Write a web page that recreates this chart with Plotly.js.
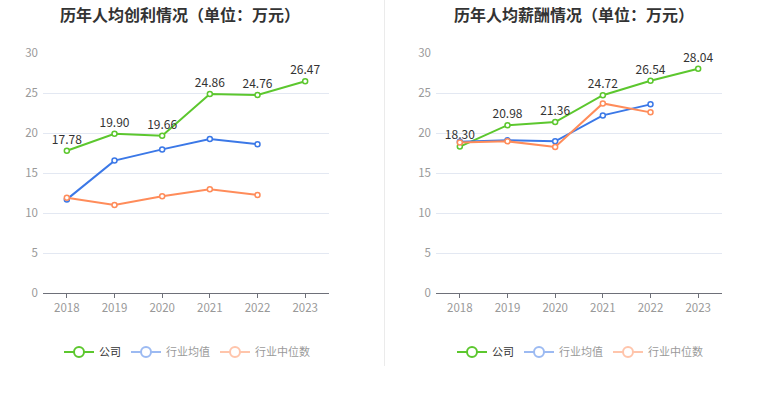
<!DOCTYPE html>
<html><head><meta charset="utf-8">
<script src="https://cdn.plot.ly/plotly-3.0.1.min.js"></script>
<style>html,body{margin:0;padding:0;background:#fff;}#c{width:765px;height:393px;}</style>
</head><body><div id="c"></div>
<script>
const years = ['2018','2019','2020','2021','2022','2023'];
const profitCompany = [17.78, 19.90, 19.66, 24.86, 24.76, 26.47];
const profitIndustryAvg = [11.7, 16.55, 17.95, 19.25, 18.6];
const profitIndustryMedian = [11.92, 11.0, 12.08, 12.96, 12.25];
const salaryCompany = [18.30, 20.98, 21.36, 24.72, 26.54, 28.04];
const salaryIndustryAvg = [18.9, 19.08, 18.96, 22.2, 23.58];
const salaryIndustryMedian = [18.8, 18.96, 18.25, 23.7, 22.58];
const seriesNames = ['公司', '行业均值', '行业中位数'];
const titles = ['历年人均创利情况（单位：万元）', '历年人均薪酬情况（单位：万元）'];

const colors = ['#5cc72e', '#3b78e7', '#ff8c5a'];
const font = 'Noto Sans CJK SC, Noto Sans, sans-serif';

function line(x, y, i, xa, ya, labels) {
  const t = {
    x: x, y: y, type: 'scatter', mode: labels ? 'lines+markers+text' : 'lines+markers',
    xaxis: xa, yaxis: ya, showlegend: false, hoverinfo: 'x+y',
    line: {color: colors[i], width: 2},
    marker: {symbol: 'circle', size: 5, color: '#fff', line: {color: colors[i], width: 1.5}},
    cliponaxis: false
  };
  if (labels) {
    t.text = y.map(v => v.toFixed(2));
    t.textposition = 'top center';
    t.textfont = {size: 12, color: '#333', family: font};
  }
  return t;
}
function legendItem(i, xa, ya, leg, vis) {
  return {
    x: [null], y: [null], type: 'scatter', mode: 'lines+markers', name: seriesNames[i],
    xaxis: xa, yaxis: ya, legend: leg, showlegend: true, visible: vis,
    line: {color: colors[i], width: 2},
    marker: {symbol: 'circle', size: 10, color: '#fff', line: {color: colors[i], width: 2}}
  };
}

const data = [
  line(years.slice(0, 6), profitCompany, 0, 'x', 'y', true),
  line(years.slice(0, 5), profitIndustryAvg, 1, 'x', 'y', false),
  line(years.slice(0, 5), profitIndustryMedian, 2, 'x', 'y', false),
  line(years.slice(0, 6), salaryCompany, 0, 'x2', 'y2', true),
  line(years.slice(0, 5), salaryIndustryAvg, 1, 'x2', 'y2', false),
  line(years.slice(0, 5), salaryIndustryMedian, 2, 'x2', 'y2', false),
  legendItem(0, 'x', 'y', 'legend', true),
  legendItem(1, 'x', 'y', 'legend', 'legendonly'),
  legendItem(2, 'x', 'y', 'legend', 'legendonly'),
  legendItem(0, 'x2', 'y2', 'legend2', true),
  legendItem(1, 'x2', 'y2', 'legend2', 'legendonly'),
  legendItem(2, 'x2', 'y2', 'legend2', 'legendonly')
];

const W = 765, H = 393;
function xax(d0, d1, anchor) {
  return {
    domain: [d0 / W, d1 / W], anchor: anchor, type: 'category', range: [-0.5, 5.5],
    showgrid: false, zeroline: false, showline: true, linecolor: '#6e7079', linewidth: 1,
    ticks: 'outside', ticklen: 4, tickcolor: '#6e7079',
    tickfont: {size: 11.5, color: '#999', family: font}, fixedrange: true
  };
}
function yax(anchor) {
  return {
    domain: [(H - 293) / H, (H - 53) / H], anchor: anchor, range: [0, 30], dtick: 5,
    showgrid: true, gridcolor: '#e3e8f2', gridwidth: 1, zeroline: false, showline: false,
    ticks: '', tickfont: {size: 11.5, color: '#999', family: font}, ticklabelstandoff: 4, fixedrange: true
  };
}
const legendBase = {
  orientation: 'h', xanchor: 'center', yanchor: 'middle', y: (H - 352) / H,
  font: {size: 11, color: '#333', family: font}, bgcolor: 'rgba(0,0,0,0)',
  itemwidth: 30, itemclick: false, itemdoubleclick: false
};
const layout = {
  width: W, height: H, margin: {l: 0, r: 0, t: 0, b: 0},
  paper_bgcolor: '#fff', plot_bgcolor: '#fff', showlegend: true,
  font: {family: font},
  xaxis: xax(43, 329, 'y'), yaxis: yax('x'),
  xaxis2: xax(436, 722, 'y2'), yaxis2: yax('x2'),
  legend: Object.assign({}, legendBase, {x: 187 / W}),
  legend2: Object.assign({}, legendBase, {x: 580 / W}),
  annotations: [
    {text: '<b>' + titles[0] + '</b>', xref: 'paper', yref: 'paper', x: 180 / W, y: (H - 14) / H,
     xanchor: 'center', yanchor: 'middle', showarrow: false, font: {size: 16, color: '#333', family: font}},
    {text: '<b>' + titles[1] + '</b>', xref: 'paper', yref: 'paper', x: 574 / W, y: (H - 14) / H,
     xanchor: 'center', yanchor: 'middle', showarrow: false, font: {size: 16, color: '#333', family: font}}
  ],
  shapes: [
    {type: 'line', xref: 'paper', yref: 'paper', x0: 384.5 / W, x1: 384.5 / W, y0: (H - 366) / H, y1: 1,
     line: {color: '#ebebeb', width: 1}}
  ]
};
Plotly.newPlot('c', data, layout, {displayModeBar: false});
</script></body></html>
